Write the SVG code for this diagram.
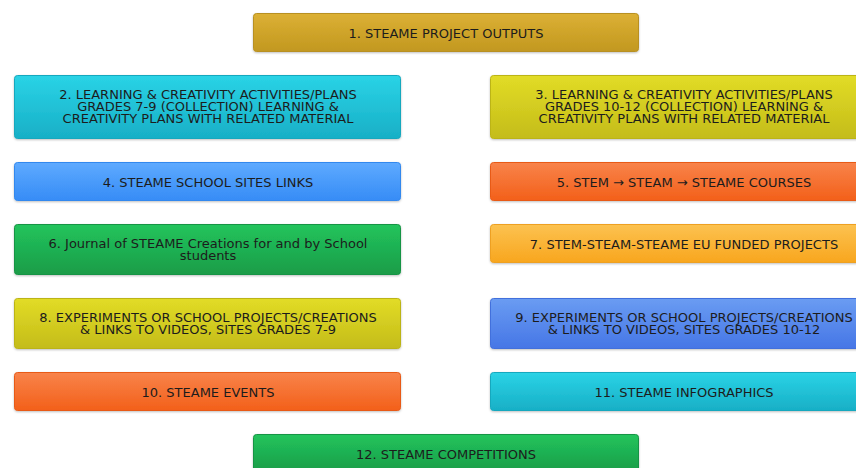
<svg xmlns="http://www.w3.org/2000/svg" width="856" height="468" viewBox="0 0 856 468">
<defs>
<linearGradient id="gGold" x1="0" y1="0" x2="0" y2="1"><stop offset="0" stop-color="#dcb034"/><stop offset="1" stop-color="#c29820"/></linearGradient>
<linearGradient id="gCyan" x1="0" y1="0" x2="0" y2="1"><stop offset="0" stop-color="#2ad3e6"/><stop offset="1" stop-color="#18afc6"/></linearGradient>
<linearGradient id="gYellow" x1="0" y1="0" x2="0" y2="1"><stop offset="0" stop-color="#e2dc26"/><stop offset="1" stop-color="#c4bc1a"/></linearGradient>
<linearGradient id="gBlue" x1="0" y1="0" x2="0" y2="1"><stop offset="0" stop-color="#5eaaff"/><stop offset="1" stop-color="#368cf6"/></linearGradient>
<linearGradient id="gOrange" x1="0" y1="0" x2="0" y2="1"><stop offset="0" stop-color="#f8834a"/><stop offset="1" stop-color="#f3601a"/></linearGradient>
<linearGradient id="gGreen" x1="0" y1="0" x2="0" y2="1"><stop offset="0" stop-color="#22c45c"/><stop offset="1" stop-color="#1a9c48"/></linearGradient>
<linearGradient id="gAmber" x1="0" y1="0" x2="0" y2="1"><stop offset="0" stop-color="#fcc250"/><stop offset="1" stop-color="#f8a61e"/></linearGradient>
<linearGradient id="gIndigo" x1="0" y1="0" x2="0" y2="1"><stop offset="0" stop-color="#6a9cf2"/><stop offset="1" stop-color="#4676e6"/></linearGradient>
<filter id="sh" x="-5%" y="-20%" width="110%" height="150%"><feDropShadow dx="0" dy="1" stdDeviation="1" flood-color="#000" flood-opacity="0.25"/></filter>
</defs>
<style>
rect.box{filter:url(#sh);stroke-width:1;}
text{font-family:"DejaVu Sans",Verdana,sans-serif;font-size:13px;fill:#1c1c1c;text-anchor:middle;}
</style>
<rect width="856" height="468" fill="#ffffff"/>
<g id="connectors"></g>
<g id="n1"><rect class="box" x="253.5" y="13.5" width="385" height="38" rx="3" fill="url(#gGold)" stroke="#b89020"/><text x="446" y="38">1. STEAME PROJECT OUTPUTS</text></g>
<g id="n2"><rect class="box" x="14.5" y="75.5" width="386" height="63" rx="3" fill="url(#gCyan)" stroke="#16a8be"/><text x="208" y="99">2. LEARNING &amp; CREATIVITY ACTIVITIES/PLANS<tspan x="208" dy="12">GRADES 7-9 (COLLECTION) LEARNING &amp;</tspan><tspan x="208" dy="12">CREATIVITY PLANS WITH RELATED MATERIAL</tspan></text></g>
<g id="n3"><rect class="box" x="490.5" y="75.5" width="386" height="63" rx="3" fill="url(#gYellow)" stroke="#bcb418"/><text x="684" y="99">3. LEARNING &amp; CREATIVITY ACTIVITIES/PLANS<tspan x="684" dy="12">GRADES 10-12 (COLLECTION) LEARNING &amp;</tspan><tspan x="684" dy="12">CREATIVITY PLANS WITH RELATED MATERIAL</tspan></text></g>
<g id="n4"><rect class="box" x="14.5" y="162.5" width="386" height="38" rx="3" fill="url(#gBlue)" stroke="#3288ee"/><text x="208" y="187">4. STEAME SCHOOL SITES LINKS</text></g>
<g id="n5"><rect class="box" x="490.5" y="162.5" width="386" height="38" rx="3" fill="url(#gOrange)" stroke="#e85a18"/><text x="684" y="187">5. STEM → STEAM → STEAME COURSES</text></g>
<g id="n6"><rect class="box" x="14.5" y="224.5" width="386" height="50" rx="3" fill="url(#gGreen)" stroke="#189444"/><text x="208" y="248">6. Journal of STEAME Creations for and by School<tspan x="208" dy="12">students</tspan></text></g>
<g id="n7"><rect class="box" x="490.5" y="224.5" width="386" height="38" rx="3" fill="url(#gAmber)" stroke="#eea020"/><text x="684" y="249">7. STEM-STEAM-STEAME EU FUNDED PROJECTS</text></g>
<g id="n8"><rect class="box" x="14.5" y="298.5" width="386" height="50" rx="3" fill="url(#gYellow)" stroke="#bcb418"/><text x="208" y="322">8. EXPERIMENTS OR SCHOOL PROJECTS/CREATIONS<tspan x="208" dy="12">&amp; LINKS TO VIDEOS, SITES GRADES 7-9</tspan></text></g>
<g id="n9"><rect class="box" x="490.5" y="298.5" width="386" height="50" rx="3" fill="url(#gIndigo)" stroke="#4270dc"/><text x="684" y="322">9. EXPERIMENTS OR SCHOOL PROJECTS/CREATIONS<tspan x="684" dy="12">&amp; LINKS TO VIDEOS, SITES GRADES 10-12</tspan></text></g>
<g id="n10"><rect class="box" x="14.5" y="372.5" width="386" height="38" rx="3" fill="url(#gOrange)" stroke="#e85a18"/><text x="208" y="397">10. STEAME EVENTS</text></g>
<g id="n11"><rect class="box" x="490.5" y="372.5" width="386" height="38" rx="3" fill="url(#gCyan)" stroke="#16a8be"/><text x="684" y="397">11. STEAME INFOGRAPHICS</text></g>
<g id="n12"><rect class="box" x="253.5" y="434.5" width="385" height="38" rx="3" fill="url(#gGreen)" stroke="#189444"/><text x="446" y="459">12. STEAME COMPETITIONS</text></g>
</svg>
